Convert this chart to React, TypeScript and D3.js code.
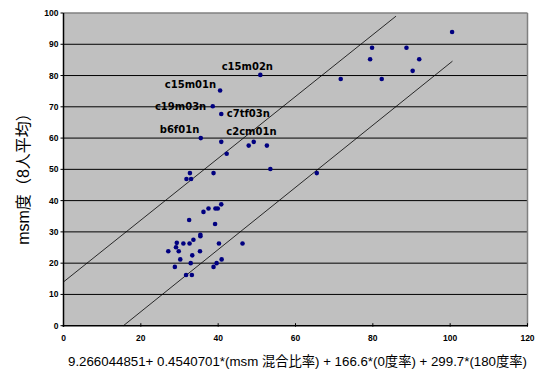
import React from "react";
import * as d3 from "d3";

// Sample points: x = predicted value from the regression formula, y = mean msm score (8 raters)
const xValues = [
  100.5, 79.8, 88.7, 79.3, 92.0, 90.3, 71.7, 82.3,
  50.9, 40.5, 38.6, 40.8, 35.5, 40.8,
  42.2, 47.9, 49.2, 52.6, 53.5, 65.5, 32.7, 38.8, 31.8, 33.0,
  40.8, 37.5, 39.3, 39.9, 36.2, 32.5, 39.2, 35.4, 35.4, 33.6,
  29.3, 31.0, 32.6, 40.2, 46.3, 29.1, 27.1, 29.8, 35.3, 33.3,
  30.2, 40.9, 32.9, 39.6, 28.8, 38.8, 31.7, 33.2,
];
const yValues = [
  93.9, 88.9, 88.9, 85.2, 85.2, 81.5, 78.9, 78.9,
  80.2, 75.2, 70.2, 67.7, 60.0, 58.8,
  55.0, 57.6, 58.8, 57.6, 50.1, 48.8, 48.8, 48.8, 46.9, 46.9,
  38.8, 37.5, 37.5, 37.5, 36.4, 33.8, 32.5, 28.6, 29.1, 27.5,
  26.5, 26.3, 26.3, 26.3, 26.3, 25.1, 23.8, 23.8, 23.8, 22.5,
  21.2, 21.2, 20.0, 20.0, 18.8, 18.8, 16.2, 16.2,
];
const pointNames = [
  "", "", "", "", "", "", "", "",
  "c15m02n", "c15m01n", "c19m03n", "c7tf03n", "b6f01n", "c2cm01n",
];

// Upper and lower guide lines (endpoints in data units)
const upperLineX = [0, 86];
const upperLineY = [14, 99];
const lowerLineX = [15.5, 100.6];
const lowerLineY = [0, 84.6];

const xTicks = [0, 20, 40, 60, 80, 100, 120];
const yTicks = [0, 10, 20, 30, 40, 50, 60, 70, 80, 90, 100];

const xTitle =
  "9.266044851+ 0.4540701*(msm 混合比率) + 166.6*(0度率) + 299.7*(180度率)";
const yTitle = "msm度（8人平均）";

// Label placement relative to its point: dx, dy, anchor
const labelPlacement: Record<string, [number, number, string]> = {
  c15m02n: [-13, -4.5, "middle"],
  c15m01n: [-4, -2.5, "end"],
  c19m03n: [-6.5, 4, "end"],
  c7tf03n: [5.5, 2.5, "start"],
  b6f01n: [-1.5, -5, "end"],
  c2cm01n: [5, -6.5, "start"],
};

const W = 535;
const H = 371;
const left = 63.5;
const right = 527.5;
const top = 13;
const bottom = 325.7;

export default function App() {
  const x = d3.scaleLinear().domain([0, 120]).range([left, right]);
  const y = d3.scaleLinear().domain([0, 100]).range([bottom, top]);
  const line = d3
    .line<[number, number]>()
    .x((d) => x(d[0]))
    .y((d) => y(d[1]));

  const upper = upperLineX.map((v, i) => [v, upperLineY[i]] as [number, number]);
  const lower = lowerLineX.map((v, i) => [v, lowerLineY[i]] as [number, number]);

  const tickFont = "'Liberation Sans Narrow', 'Liberation Sans', Arial, sans-serif";

  return (
    <svg
      width={W}
      height={H}
      viewBox={`0 0 ${W} ${H}`}
      style={{ position: "absolute", left: 0, top: 0, background: "#fff" }}
    >
      <rect x={left} y={top} width={right - left} height={bottom - top} fill="#c0c0c0" />

      {yTicks
        .filter((t) => t > 0 && t < 100)
        .map((t) => (
          <line key={t} x1={left} x2={right} y1={y(t)} y2={y(t)} stroke="#000" strokeWidth={1} />
        ))}

      {/* frame: grey top/right, black axes */}
      <line x1={left} x2={right} y1={top} y2={top} stroke="#808080" strokeWidth={1.5} />
      <line x1={right} x2={right} y1={top} y2={bottom} stroke="#808080" strokeWidth={1.5} />
      <line x1={left} x2={left} y1={top} y2={bottom + 1} stroke="#000" strokeWidth={1.5} />
      <line x1={left - 1} x2={right} y1={bottom} y2={bottom} stroke="#000" strokeWidth={1.5} />

      <path d={line(upper) ?? ""} fill="none" stroke="#000" strokeWidth={0.8} />
      <path d={line(lower) ?? ""} fill="none" stroke="#000" strokeWidth={0.8} />

      {xTicks.map((t) => (
        <g key={t}>
          <line x1={x(t)} x2={x(t)} y1={bottom - 2.5} y2={bottom + 1} stroke="#000" strokeWidth={1} />
          <text
            x={x(t)}
            y={340.5}
            textAnchor="middle"
            fontFamily={tickFont}
            fontWeight="bold"
            fontSize={8.5}
            fill="#000"
          >
            {t}
          </text>
        </g>
      ))}

      {yTicks.map((t) => (
        <g key={t}>
          <line x1={left - 3} x2={left} y1={y(t)} y2={y(t)} stroke="#000" strokeWidth={1} />
          <text
            x={58.5}
            y={y(t)}
            dy="0.35em"
            textAnchor="end"
            fontFamily={tickFont}
            fontWeight="bold"
            fontSize={8.5}
            fill="#000"
          >
            {t}
          </text>
        </g>
      ))}

      {xValues.map((xv, i) => (
        <circle key={i} cx={x(xv)} cy={y(yValues[i])} r={2.3} fill="#000080" />
      ))}

      {pointNames.map((name, i) => {
        if (!name) return null;
        const [dx, dy, anchor] = labelPlacement[name];
        return (
          <text
            key={name}
            x={x(xValues[i]) + dx}
            y={y(yValues[i]) + dy}
            textAnchor={anchor}
            fontFamily="'DejaVu Sans', Verdana, sans-serif"
            fontWeight="bold"
            fontSize={10}
            fill="#000"
          >
            {name}
          </text>
        );
      })}

      <text
        x={297.5}
        y={365.5}
        textAnchor="middle"
        fontFamily="'Liberation Sans', 'Noto Sans CJK JP', sans-serif"
        fontSize={13.5}
        textLength={459}
        lengthAdjust="spacingAndGlyphs"
        fill="#000"
      >
        {xTitle}
      </text>

      <text
        transform="translate(28.5,175) rotate(-90)"
        textAnchor="middle"
        fontFamily="'Liberation Sans', 'Noto Sans CJK JP', sans-serif"
        fontSize={16}
        fill="#000"
      >
        {yTitle}
      </text>
    </svg>
  );
}
